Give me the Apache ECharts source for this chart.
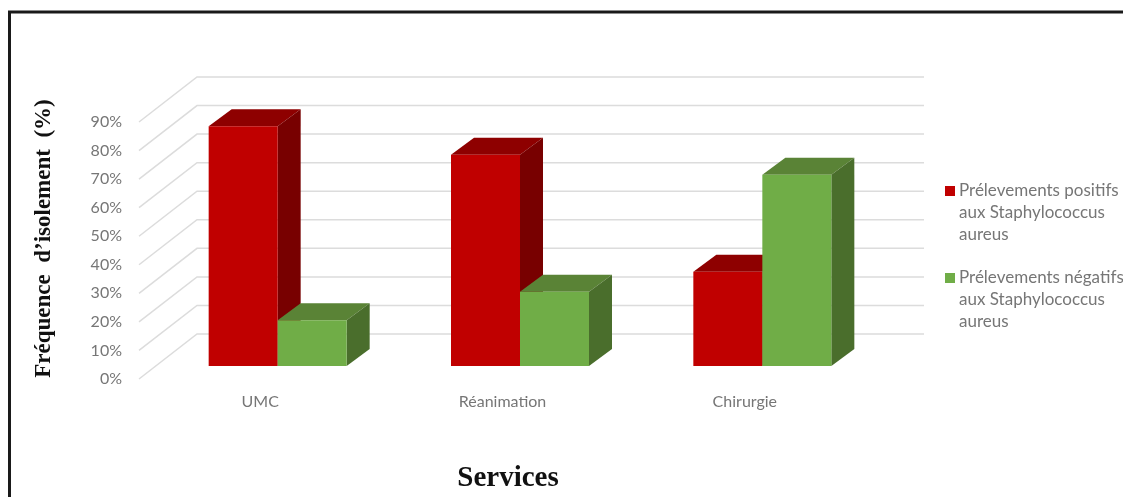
<!DOCTYPE html>
<html>
<head>
<meta charset="utf-8">
<style>html,body{margin:0;padding:0;background:#fff}#c{width:1123px;height:497px}</style>
<script src="https://cdn.jsdelivr.net/npm/echarts@6/dist/echarts.min.js"></script>
</head>
<body>
<div id="c"></div>
<script>
const categories = ['UMC', 'Réanimation', 'Chirurgie'];
const positifs = [84, 74, 33];
const negatifs = [16, 26, 67];
const yTicks = [0, 10, 20, 30, 40, 50, 60, 70, 80, 90];
const namePos = 'Prélevements positifs\naux Staphylococcus\naureus';
const nameNeg = 'Prélevements négatifs\naux Staphylococcus\naureus';

const wallDx = 58, wallDy = 45;      // floor depth
const barLift = 13, barShift = 17.5; // bar distance from the front edge
const depthDx = 23, depthDy = 17;    // bar depth
const barW = 69;
const textColor = '#767676';
const legendIcon = 'path://M0 0L0 0M0 6H10V16H0ZM0 66L0 66';

function bar3d(side, front, top, dark) {
  return function (params, api) {
    const i = api.value(0), v = api.value(1);
    const c = api.coord([i, v]), b = api.coord([i, 0]);
    const x0 = c[0] + barShift + (side < 0 ? -barW : 0), x1 = x0 + barW;
    const yt = c[1] - barLift, yb = b[1] - barLift;
    return {
      type: 'group',
      children: [
        { type: 'polygon', shape: { points: [[x0, yt], [x1, yt], [x1 + depthDx, yt - depthDy], [x0 + depthDx, yt - depthDy]] }, style: { fill: top } },
        { type: 'polygon', shape: { points: [[x1, yt], [x1 + depthDx, yt - depthDy], [x1 + depthDx, yb - depthDy], [x1, yb]] }, style: { fill: dark } },
        { type: 'rect', shape: { x: x0, y: yt, width: barW, height: yb - yt }, style: { fill: front } }
      ]
    };
  };
}

const chart = echarts.init(document.getElementById('c'), null, { renderer: 'canvas' });
chart.setOption({
  animation: false,
  backgroundColor: '#fff',
  grid: { left: 139, right: 257, top: 122, height: 257, containLabel: false, outerBoundsMode: 'none' },
  xAxis: {
    type: 'category',
    data: categories,
    axisLine: { show: false },
    axisTick: { show: false },
    axisLabel: { color: textColor, fontFamily: 'Lato', fontSize: 16, margin: 15 },
    name: 'Services',
    nameLocation: 'middle',
    nameGap: 85,
    nameTextStyle: { fontFamily: 'Liberation Serif', fontWeight: 'bold', fontSize: 29, color: '#111', padding: [0, 0, 0, 11] }
  },
  yAxis: {
    type: 'value',
    min: 0, max: 90, interval: 10,
    axisLine: { show: false },
    axisTick: { show: false },
    splitLine: { show: false },
    axisLabel: { color: textColor, fontFamily: 'Lato', fontSize: 16, margin: 17, formatter: '{value}%' },
    name: 'Fréquence  d’isolement  (%)',
    nameLocation: 'middle',
    nameGap: 83,
    nameTextStyle: { fontFamily: 'Liberation Serif', fontWeight: 'bold', fontSize: 23, color: '#111', padding: [0, 0, 0, 24] }
  },
  legend: {
    left: 940, top: 175,
    orient: 'vertical',
    data: [namePos, nameNeg],
    itemWidth: 10, itemHeight: 66,
    icon: legendIcon,
    itemGap: 21,
    textStyle: { color: textColor, fontFamily: 'Lato', fontSize: 17, lineHeight: 22, padding: [0, 0, 0, -1] }
  },
  graphic: [{
    type: 'polyline',
    silent: true,
    shape: { points: [[9.5, 497], [9.5, 12], [1123, 12]] },
    style: { stroke: '#1a1a1a', lineWidth: 3, fill: null }
  }],
  series: [
    {
      type: 'custom', name: 'grid', silent: true, z: 1, clip: false,
      coordinateSystem: 'cartesian2d',
      data: yTicks.map(t => [0, t]),
      encode: { x: 0, y: 1 },
      renderItem(params, api) {
        const y = api.coord([0, api.value(1)])[1];
        const cs = params.coordSys;
        return {
          type: 'polyline',
          shape: { points: [[cs.x, y], [cs.x + wallDx, y - wallDy], [cs.x + cs.width + wallDx, y - wallDy]] },
          style: { stroke: '#dcdcdc', lineWidth: 1.5, fill: null }
        };
      }
    },
    {
      type: 'custom', name: namePos, z: 2, clip: false,
      coordinateSystem: 'cartesian2d',
      itemStyle: { color: '#c00000' },
      data: positifs.map((v, i) => [i, v]),
      encode: { x: 0, y: 1 },
      renderItem: bar3d(-1, '#c00000', '#8e0000', '#780000')
    },
    {
      type: 'custom', name: nameNeg, z: 3, clip: false,
      coordinateSystem: 'cartesian2d',
      itemStyle: { color: '#70ad47' },
      data: negatifs.map((v, i) => [i, v]),
      encode: { x: 0, y: 1 },
      renderItem: bar3d(1, '#70ad47', '#5a8336', '#4a6e2c')
    }
  ]
});
</script>
</body>
</html>
